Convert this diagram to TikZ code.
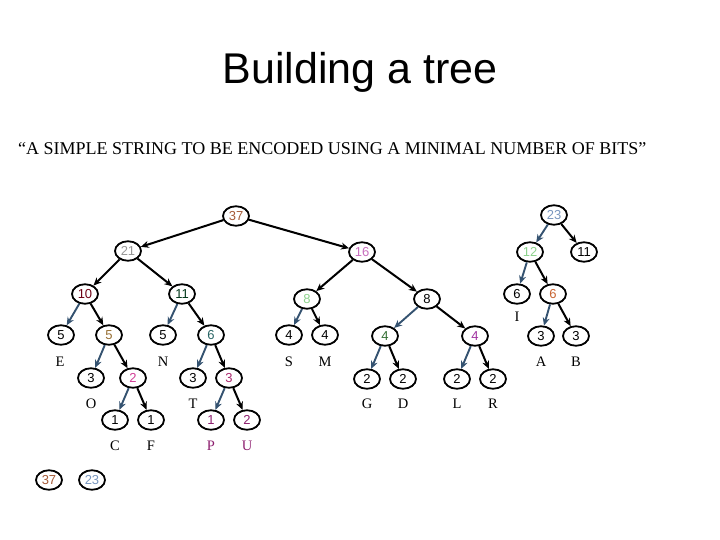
\documentclass[tikz,border=0pt]{standalone}
\usepackage{fontspec}
\setmainfont{Liberation Serif}
\newfontfamily\numfont{Liberation Sans}
\usetikzlibrary{arrows.meta,shapes.geometric}

% colours of the counts
\definecolor{edgeblue}{RGB}{52,82,112}
\definecolor{cbrown}{RGB}{165,90,55}
\definecolor{cgray}{RGB}{150,150,150}
\definecolor{corchid}{RGB}{200,110,190}
\definecolor{csteel}{RGB}{120,150,190}
\definecolor{clgreen}{RGB}{140,210,140}
\definecolor{cdred}{RGB}{110,0,20}
\definecolor{cdgreen}{RGB}{0,55,25}
\definecolor{corange}{RGB}{200,100,50}
\definecolor{colive}{RGB}{150,110,50}
\definecolor{cteal}{RGB}{40,100,100}
\definecolor{cgreen}{RGB}{50,110,50}
\definecolor{cpurple}{RGB}{160,50,160}
\definecolor{cpink}{RGB}{210,60,150}
\definecolor{cmagenta}{RGB}{170,40,110}
\definecolor{cplum}{RGB}{140,30,110}

\begin{document}
\begin{tikzpicture}[x=1pt, y=-1pt,
  hnode/.style={ellipse, draw, line width=1.8pt, minimum width=26pt, minimum height=19.5pt,
    inner sep=0pt, font=\numfont\fontsize{13}{13}\selectfont},
  letter/.style={inner sep=0pt, font=\fontsize{14.5}{14.5}\selectfont},
  leftedge/.style={draw=edgeblue, line width=1.9pt, -{Stealth[length=8pt,width=7pt]}},
  rightedge/.style={draw=black, line width=2pt, -{Stealth[length=8pt,width=7pt]}}]

\useasboundingbox (0,0) rectangle (720,540);

% Title
\node[anchor=base, inner sep=0pt, font=\numfont\fontsize{43}{43}\selectfont] (title) at (360,84) {Building a tree};
\node[anchor=base west, inner sep=0pt, font=\fontsize{18}{18}\selectfont] (subtitle) at (18,155)
  {“A SIMPLE STRING TO BE ENCODED USING A MINIMAL NUMBER OF BITS”};

% Roots
\node[hnode, text=cbrown] (n37) at (236,216) {37};
\node[hnode, text=csteel] (n23) at (554,215) {23};

% Level 1
\node[hnode, text=cgray] (n21) at (128,251) {21};
\node[hnode, text=corchid] (n16) at (362,252) {16};
\node[hnode, text=clgreen] (n12) at (530,252) {12};
\node[hnode] (n11b) at (584,252) {11};

% Level 2
\node[hnode, text=cdred] (n10) at (85,294) {10};
\node[hnode, text=cdgreen] (n11a) at (182,294) {11};
\node[hnode, text=clgreen] (n8g) at (307,299) {8};
\node[hnode] (n8) at (427,299) {8};
\node[hnode] (n6i) at (517,294) {6};
\node[hnode, text=corange] (n6b) at (553,294) {6};
\node[letter] (lI) at (517,317) {I};

% Level 3
\node[hnode] (n5e) at (61,335) {5};
\node[hnode, text=colive] (n5b) at (109,335) {5};
\node[hnode] (n5n) at (163,335) {5};
\node[hnode, text=cteal] (n6t) at (211,335) {6};
\node[hnode] (n4s) at (289,335) {4};
\node[hnode] (n4m) at (325,335) {4};
\node[hnode, text=cgreen] (n4g) at (385,336) {4};
\node[hnode, text=cpurple] (n4p) at (475,336) {4};
\node[hnode] (n3a) at (541,336) {3};
\node[hnode] (n3b) at (576,336) {3};
\node[letter] (lE) at (60,362) {E};
\node[letter] (lN) at (163,362) {N};
\node[letter] (lS) at (289,362) {S};
\node[letter] (lM) at (325,362) {M};
\node[letter] (lA) at (541,362) {A};
\node[letter] (lB) at (576,362) {B};

% Level 4
\node[hnode] (n3o) at (91,378) {3};
\node[hnode, text=cpink] (n2) at (133,378) {2};
\node[hnode] (n3t) at (193,378) {3};
\node[hnode, text=cmagenta] (n3p) at (229,378) {3};
\node[hnode] (n2g) at (367,379) {2};
\node[hnode] (n2d) at (403,379) {2};
\node[hnode] (n2l) at (457,379) {2};
\node[hnode] (n2r) at (493,379) {2};
\node[letter] (lO) at (91,404) {O};
\node[letter] (lT) at (193,404) {T};
\node[letter] (lG) at (367,404) {G};
\node[letter] (lD) at (403,404) {D};
\node[letter] (lL) at (457,404) {L};
\node[letter] (lR) at (493,404) {R};

% Level 5
\node[hnode] (n1c) at (115,420) {1};
\node[hnode] (n1f) at (151,420) {1};
\node[hnode, text=cplum] (n1p) at (211,420) {1};
\node[hnode, text=cplum] (n2u) at (247,420) {2};
\node[letter] (lC) at (115,446) {C};
\node[letter] (lF) at (151,446) {F};
\node[letter, text=cplum] (lP) at (211,446) {P};
\node[letter, text=cplum] (lU) at (247,446) {U};

% Queue
\node[hnode, text=cbrown] (q37) at (49,480) {37};
\node[hnode, text=csteel] (q23) at (92,480) {23};

% Edges to the right (bit 1)
\draw[rightedge] (n37) -- (n21);
\draw[rightedge] (n37) -- (n16);
\draw[rightedge] (n21) -- (n10);
\draw[rightedge] (n21) -- (n11a);
\draw[rightedge] (n16) -- (n8g);
\draw[rightedge] (n16) -- (n8);
\draw[rightedge] (n23) -- (n11b);
\draw[rightedge] (n12) -- (n6b);
\draw[rightedge] (n10) -- (n5b);
\draw[rightedge] (n11a) -- (n6t);
\draw[rightedge] (n8g) -- (n4m);
\draw[rightedge] (n8) -- (n4p);
\draw[rightedge] (n6b) -- (n3b);
\draw[rightedge] (n5b) -- (n2);
\draw[rightedge] (n2) -- (n1f);
\draw[rightedge] (n6t) -- (n3p);
\draw[rightedge] (n3p) -- (n2u);
\draw[rightedge] (n4g) -- (n2d);
\draw[rightedge] (n4p) -- (n2r);

% Edges to the left (bit 0)
\draw[leftedge] (n23) -- (n12);
\draw[leftedge] (n12) -- (n6i);
\draw[leftedge] (n10) -- (n5e);
\draw[leftedge] (n11a) -- (n5n);
\draw[leftedge] (n8g) -- (n4s);
\draw[leftedge] (n8) -- (n4g);
\draw[leftedge] (n6b) -- (n3a);
\draw[leftedge] (n5b) -- (n3o);
\draw[leftedge] (n2) -- (n1c);
\draw[leftedge] (n6t) -- (n3t);
\draw[leftedge] (n3p) -- (n1p);
\draw[leftedge] (n4g) -- (n2g);
\draw[leftedge] (n4p) -- (n2l);

\end{tikzpicture}
\end{document}
